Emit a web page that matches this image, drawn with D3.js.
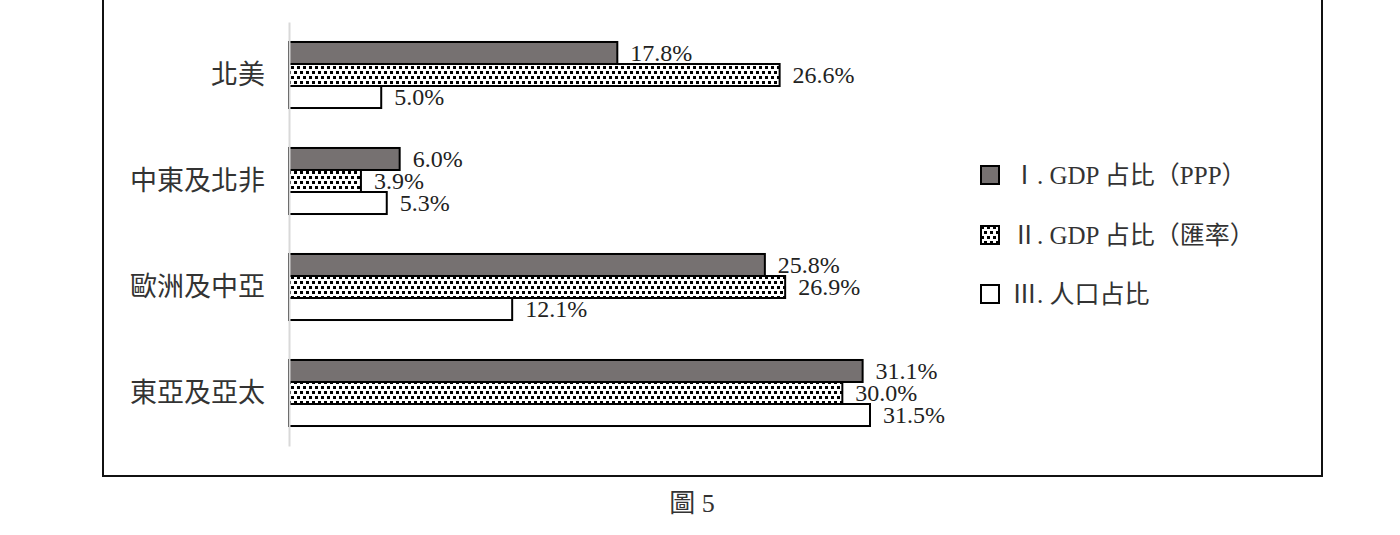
<!DOCTYPE html>
<html lang="zh-Hant">
<head>
    <meta charset="UTF-8">
    <title>圖 5</title>
    <script src="https://d3js.org/d3.v7.min.js"></script>
    <style>
        body { margin: 0; background: #fff; }
        .cat-axis path { stroke: #d9d9d9; stroke-width: 2; }
        .cat-axis text {
            font: 27px "Noto Sans CJK TC", sans-serif;
            fill: #333;
        }
        .val {
            font: 24px "Liberation Serif", "Noto Sans CJK TC", serif;
            fill: #222;
        }
        .legend text {
            font: 25px "Liberation Serif", "Noto Sans CJK TC", serif;
            fill: #333;
        }
        .caption {
            font: 26px "Liberation Serif", "Noto Sans CJK TC", serif;
            fill: #333;
        }
    </style>
</head>
<body>
<script>
    // Data
    const categories = ["北美", "中東及北非", "歐洲及中亞", "東亞及亞太"];
    const seriesNames = ["Ⅰ. GDP 占比（PPP）", "Ⅱ. GDP 占比（匯率）", "Ⅲ. 人口占比"];
    const gdpPPP = [17.8, 6.0, 25.8, 31.1];
    const gdpFX = [26.6, 3.9, 26.9, 30.0];
    const population = [5.0, 5.3, 12.1, 31.5];

    const seriesValues = [gdpPPP, gdpFX, population];
    const fills = ["#767171", "url(#dots)", "#fff"];

    const W = 1400, H = 535;

    const svg = d3.select("body")
        .append("svg")
        .attr("width", W)
        .attr("height", H);

    // staggered dot pattern for series II
    const pat = svg.append("defs").append("pattern")
        .attr("id", "dots")
        .attr("patternUnits", "userSpaceOnUse")
        .attr("width", 6)
        .attr("height", 10);
    pat.append("rect").attr("width", 6).attr("height", 10).attr("fill", "#fff");
    pat.append("rect").attr("x", 0).attr("y", 1).attr("width", 3).attr("height", 3).attr("fill", "#000");
    pat.append("rect").attr("x", 3).attr("y", 6).attr("width", 3).attr("height", 3).attr("fill", "#000");

    // outer frame (top edge sits above the picture)
    svg.append("rect")
        .attr("x", 103)
        .attr("y", -10)
        .attr("width", 1219)
        .attr("height", 486)
        .attr("fill", "none")
        .attr("stroke", "#111")
        .attr("stroke-width", 2);

    // scales
    const x = d3.scaleLinear()
        .domain([0, 31.5])
        .range([289, 870]);

    const y = d3.scaleBand()
        .domain(categories)
        .range([22, 446])
        .paddingInner(0.377)
        .paddingOuter(0.1885);

    const sub = d3.scaleBand()
        .domain(d3.range(seriesValues.length))
        .range([0, y.bandwidth()]);

    // bars
    seriesValues.forEach((vals, s) => {
        svg.selectAll(".bar-" + s)
            .data(vals)
            .enter()
            .append("rect")
            .attr("x", x(0))
            .attr("y", (d, i) => y(categories[i]) + sub(s))
            .attr("width", d => x(d) - x(0))
            .attr("height", sub.bandwidth())
            .attr("fill", fills[s])
            .attr("stroke", "#000")
            .attr("stroke-width", 2);

        svg.selectAll(".val-" + s)
            .data(vals)
            .enter()
            .append("text")
            .attr("class", "val")
            .attr("x", d => x(d) + 13)
            .attr("y", (d, i) => y(categories[i]) + sub(s) + sub.bandwidth() / 2)
            .attr("dy", "0.35em")
            .text(d => d.toFixed(1) + "%");
    });

    // category axis
    svg.append("g")
        .attr("class", "cat-axis")
        .attr("transform", `translate(${x(0)},0)`)
        .call(d3.axisLeft(y).tickSize(0).tickPadding(24))
        .call(g => g.select(".domain").attr("stroke", "#d9d9d9"));
    svg.selectAll(".cat-axis text").attr("font-family", null).attr("font-size", null);

    // legend
    const legendY = [175, 235, 294];
    const legend = svg.append("g").attr("class", "legend");
    seriesNames.forEach((name, s) => {
        legend.append("rect")
            .attr("x", 981)
            .attr("y", legendY[s] - 9)
            .attr("width", 18)
            .attr("height", 18)
            .attr("fill", fills[s])
            .attr("stroke", "#000")
            .attr("stroke-width", 2);
        legend.append("text")
            .attr("x", 1012)
            .attr("y", legendY[s])
            .attr("dy", "0.35em")
            .text(name);
    });

    // caption
    svg.append("text")
        .attr("class", "caption")
        .attr("x", 692)
        .attr("y", 503)
        .attr("dy", "0.35em")
        .attr("text-anchor", "middle")
        .text("圖 5");
</script>
</body>
</html>
